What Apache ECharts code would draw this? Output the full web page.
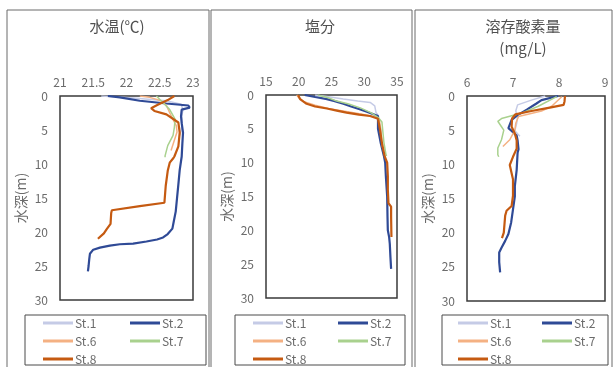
<!DOCTYPE html>
<html>
<head>
<meta charset="utf-8">
<script src="https://cdn.jsdelivr.net/npm/echarts@6/dist/echarts.min.js"></script>
<style>
html,body{margin:0;padding:0;background:#fff;}
#chart{width:614px;height:367px;}
</style>
</head>
<body>
<div id="chart"></div>
<script>
// Vertical profiles by station: [value, depth(m)]
const stations = ['St.1', 'St.2', 'St.6', 'St.7', 'St.8'];

// Water temperature (°C)
const tempSt1 = [[21.62,0],[22.1,0.3],[22.6,0.7],[22.82,1.2],[22.85,2],[22.83,3],[22.84,4],[22.82,5],[22.8,5.8]];
const tempSt2 = [[21.72,0],[21.9,0.2],[22.2,0.7],[22.6,1.1],[22.93,1.4],[22.95,1.7],[22.83,2.0],[22.82,3],[22.83,4],[22.85,5.4],[22.84,7],[22.83,8.9],[22.8,10.9],[22.78,13],[22.76,15],[22.74,17],[22.71,18.5],[22.69,19.5],[22.62,20.3],[22.55,20.8],[22.46,21.1],[22.3,21.4],[22.1,21.7],[21.9,21.8],[21.75,22.0],[21.6,22.3],[21.5,22.6],[21.45,23.2],[21.44,24],[21.43,25],[21.42,25.8]];
const tempSt6 = [[22.2,0],[22.35,0.2],[22.52,0.7],[22.6,1.4],[22.67,2.9],[22.75,4.4],[22.76,5.3],[22.71,6.8],[22.67,8]];
const tempSt7 = [[22.45,0],[22.55,1],[22.65,2],[22.73,3.4],[22.72,4.6],[22.7,5.8],[22.62,7.3],[22.58,8.8],[22.58,9]];
const tempSt8 = [[22.72,0],[22.62,0.6],[22.47,1.3],[22.37,1.8],[22.42,2.2],[22.6,2.7],[22.78,3.9],[22.8,5.4],[22.78,7.4],[22.72,8.9],[22.7,9.2],[22.65,9.8],[22.62,11],[22.59,13.2],[22.57,15.7],[22.2,16.2],[21.78,16.8],[21.77,17.2],[21.76,18.8],[21.7,19.6],[21.66,20.2],[21.57,21]];

// Salinity
const salSt1 = [[22.5,0],[24.8,0.3],[26.8,0.6],[29,0.9],[30.9,1.1],[31.6,1.6],[31.8,2.6],[32.1,3.0],[32.3,4],[32.5,5],[32.6,5.8]];
const salSt2 = [[20.9,0],[22.5,0.3],[24.3,0.6],[25.5,0.9],[26.8,1.3],[28,1.7],[29.3,2.1],[30.5,2.5],[31.3,2.8],[32.1,3.1],[32.1,4],[32.1,5],[32.5,7],[33.0,9],[33.2,10],[33.3,12],[33.5,15],[33.55,18],[33.6,20],[33.8,21],[33.9,22],[34.0,24],[34.1,25.7]];
const salSt6 = [[19.7,0],[20.0,0.4],[20.8,1.0],[22.5,1.5],[24.5,2.0],[27,2.4],[29.5,2.8],[31.5,3.2],[32.3,3.6],[32.5,5],[32.7,7],[32.8,7.8]];
const salSt7 = [[22.9,0],[24.5,0.4],[25.8,0.9],[27.5,1.3],[29.4,1.9],[31,2.6],[32.1,3.3],[32.7,4.0],[32.8,5],[33.0,7],[33.3,8.7],[33.4,9]];
const salSt8 = [[19.9,0],[20.2,0.6],[21.2,1.3],[22.5,1.7],[24.3,2.0],[25.8,2.3],[27.3,2.6],[29.2,2.9],[30.9,3.1],[32.1,3.5],[32.4,5.1],[32.7,7.1],[33.1,9],[33.5,10],[33.6,12],[33.6,14],[33.7,16],[34.1,16.5],[34.1,18],[34.15,21]];

// Dissolved oxygen (mg/L)
const doSt1 = [[7.7,0],[7.4,0.6],[7.1,1.3],[7.06,2.2],[7.1,3.0],[7.08,4],[7.04,5.1],[7.15,5.9]];
const doSt2 = [[7.98,0],[7.62,0.6],[7.51,1.1],[7.3,2.0],[7.1,2.8],[6.97,3.5],[6.9,4.7],[6.97,5.1],[7.08,5.8],[7.1,6.5],[7.12,7.8],[7.1,8.3],[7.08,10.8],[7.04,13.2],[7.04,14.7],[7.0,16.6],[6.96,18.5],[6.9,20.2],[6.83,21.2],[6.75,22.2],[6.7,22.9],[6.7,24.3],[6.72,25.8]];
const doSt6 = [[8.06,0.1],[7.84,1.5],[7.62,2.2],[7.12,3.0],[7.06,4],[7.04,5],[6.93,6.4],[6.78,7.4]];
const doSt7 = [[7.95,0.1],[7.55,1.5],[7.19,2.5],[6.75,3.3],[6.67,3.7],[6.75,4.5],[6.8,5],[6.75,6.4],[6.67,7.6],[6.67,8.6],[6.69,8.9]];
const doSt8 = [[8.13,0],[8.12,0.8],[8.1,1.3],[7.8,1.7],[7.4,2.2],[7.05,2.7],[6.98,3.3],[6.97,4.5],[7.04,5.5],[7.08,6.5],[7.08,7.7],[7.0,8.9],[6.93,10.1],[6.97,11.3],[7.0,12.2],[7.0,14.6],[6.97,16.1],[6.86,16.8],[6.83,17.5],[6.8,20],[6.76,20.8]];

// Axis ranges and panel titles
const xRanges = [[21, 23, 0.5], [15, 35, 5], [6, 9, 1]];
const depthRange = [0, 30, 5];
const panelTitles = ['水温(℃)', '塩分', '溶存酸素量\n(mg/L)'];
const depthName = '水深(m)';

const panelData = [
  [tempSt1, tempSt2, tempSt6, tempSt7, tempSt8],
  [salSt1, salSt2, salSt6, salSt7, salSt8],
  [doSt1, doSt2, doSt6, doSt7, doSt8]
];

const colors = ['#c5cbe6', '#2f4a96', '#f4b183', '#a9d18e', '#c55a11'];
const widths = [1.5, 2.2, 1.5, 1.5, 2.2];
const font = '"Noto Sans CJK JP", "Noto Sans", sans-serif';
const grey = '#6b6b6b';

// Panel layout (pixels)
const grids = [
  { left: 60, top: 96, width: 133, height: 204 },
  { left: 266, top: 95, width: 131, height: 203 },
  { left: 467, top: 96, width: 138, height: 205 }
];
const frames = [
  { x: 7, y: 10, w: 202, h: 370 },
  { x: 211, y: 10, w: 201, h: 370 },
  { x: 415, y: 10, w: 197, h: 370 }
];
const legendBoxes = [
  { x: 25, y: 315, w: 181, h: 50, c1: 43, c2: 130 },
  { x: 235, y: 315, w: 170, h: 50, c1: 253, c2: 338 },
  { x: 442, y: 315, w: 166, h: 50, c1: 458, c2: 542 }
];
const titleCenters = [117, 320, 523];

const option = {
  backgroundColor: '#fff',
  animation: false,
  grid: grids.map(g => ({
    left: g.left, top: g.top, width: g.width, height: g.height,
    show: true, borderColor: '#3a3a3a', borderWidth: 1.5, backgroundColor: '#fff'
  })),
  xAxis: xRanges.map((r, i) => ({
    type: 'value', gridIndex: i, position: 'top',
    min: r[0], max: r[1], interval: r[2],
    axisLine: { show: false }, axisTick: { show: false }, splitLine: { show: false },
    axisLabel: { color: grey, fontSize: 12, fontFamily: font, margin: 8 }
  })),
  yAxis: grids.map((g, i) => ({
    type: 'value', gridIndex: i, inverse: true,
    min: depthRange[0], max: depthRange[1], interval: depthRange[2],
    axisLine: { show: false }, axisTick: { show: false }, splitLine: { show: false },
    axisLabel: { color: grey, fontSize: 12, fontFamily: font, margin: 12 },
    name: depthName, nameLocation: 'middle', nameGap: 32, nameRotate: 90,
    nameTextStyle: { color: grey, fontSize: 14, fontFamily: font }
  })),
  legend: [],
  series: [],
  graphic: []
};

panelData.forEach((sets, p) => {
  sets.forEach((d, k) => {
    option.series.push({
      type: 'line', name: stations[k], xAxisIndex: p, yAxisIndex: p,
      data: d, symbol: 'none', smooth: false,
      lineStyle: { color: colors[k], width: widths[k] },
      itemStyle: { color: colors[k] },
      z: k === 0 ? 2 : 3 + k
    });
  });
  const lb = legendBoxes[p];
  const common = {
    orient: 'vertical', top: lb.y + 2, itemWidth: 30, itemHeight: 3, itemGap: 6,
    icon: 'rect', padding: 0,
    textStyle: { color: grey, fontSize: 12, fontFamily: font, padding: [0, 0, 0, -3] }
  };
  option.legend.push(Object.assign({ left: lb.c1, data: ['St.1', 'St.6', 'St.8'] }, common));
  option.legend.push(Object.assign({ left: lb.c2, data: ['St.2', 'St.7'] }, common));

  const fr = frames[p];
  option.graphic.push({
    type: 'rect', shape: { x: fr.x, y: fr.y, width: fr.w, height: fr.h },
    style: { fill: 'none', stroke: '#6a6a6a', lineWidth: 1 }, z: 0, silent: true
  });
  option.graphic.push({
    type: 'rect', shape: { x: lb.x, y: lb.y, width: lb.w, height: lb.h },
    style: { fill: 'none', stroke: '#4a4a4a', lineWidth: 1 }, z: 1, silent: true
  });
  option.graphic.push({
    type: 'text', x: titleCenters[p], y: 15,
    style: { text: panelTitles[p], fill: '#505050', font: '15px ' + font, textAlign: 'center', lineHeight: 22 },
    z: 2, silent: true
  });
});

const chart = echarts.init(document.getElementById('chart'), null, { renderer: 'canvas' });
chart.setOption(option);
</script>
</body>
</html>
